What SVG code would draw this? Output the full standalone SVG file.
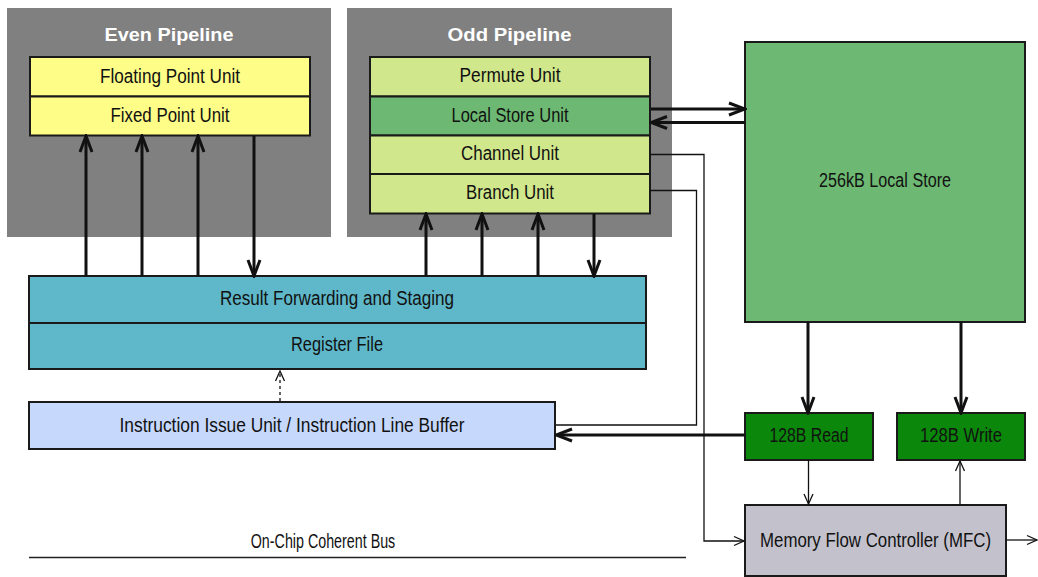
<svg xmlns="http://www.w3.org/2000/svg" width="1038" height="577" viewBox="0 0 1038 577">
<defs>
<style>
.t{font-family:"Liberation Sans",Arial,sans-serif;font-size:20px;fill:#111;text-anchor:middle}
.h{font-family:"Liberation Sans",Arial,sans-serif;font-size:19px;font-weight:bold;fill:#fff;text-anchor:middle}
.pipe{fill:#808080}
.box{stroke:#1a1a1a;stroke-width:2}
.yel{fill:#fdfd88}
.lg{fill:#d1e78b}
.mg{fill:#6db872}
.teal{fill:#5fb8c9}
.blue{fill:#c6d8fb}
.dg{fill:#0b880b}
.grey{fill:#c3c2cc}
.thick{stroke:#111;stroke-width:3;fill:none}
.thin{stroke:#111;stroke-width:1.3;fill:none}
</style>
<marker id="ah" viewBox="-2 -2 20 16" markerWidth="20" markerHeight="16" refX="15" refY="6" orient="auto" markerUnits="userSpaceOnUse">
<path d="M0,0 L16,6 L0,12" fill="none" stroke="#111" stroke-width="3"/>
</marker>
<marker id="at" viewBox="-2 -2 14 12" markerWidth="14" markerHeight="12" refX="10" refY="4.5" orient="auto" markerUnits="userSpaceOnUse">
<path d="M0,0 L10,4.5 L0,9" fill="none" stroke="#111" stroke-width="1.3"/>
</marker>
</defs>
<rect width="1038" height="577" fill="#fff"/>

<g id="even-pipeline">
<rect class="pipe" x="7" y="8" width="324" height="229"/>
<text class="h" x="169" y="41" textLength="129" lengthAdjust="spacingAndGlyphs">Even Pipeline</text>
</g>
<g id="floating-point-unit">
<rect class="box yel" x="30" y="57" width="280" height="39.5"/>
<text class="t" x="170" y="82.5" textLength="140" lengthAdjust="spacingAndGlyphs">Floating Point Unit</text>
</g>
<g id="fixed-point-unit">
<rect class="box yel" x="30" y="96.5" width="280" height="39"/>
<text class="t" x="170" y="121.5" textLength="119" lengthAdjust="spacingAndGlyphs">Fixed Point Unit</text>
</g>

<g id="odd-pipeline">
<rect class="pipe" x="347" y="8" width="325" height="229"/>
<text class="h" x="509.5" y="41" textLength="124" lengthAdjust="spacingAndGlyphs">Odd Pipeline</text>
</g>
<g id="permute-unit">
<rect class="box lg" x="370" y="57" width="280" height="39.5"/>
<text class="t" x="510" y="82.3" textLength="101" lengthAdjust="spacingAndGlyphs">Permute Unit</text>
</g>
<g id="local-store-unit">
<rect class="box mg" x="370" y="96.5" width="280" height="39"/>
<text class="t" x="510" y="121.7" textLength="117" lengthAdjust="spacingAndGlyphs">Local Store Unit</text>
</g>
<g id="channel-unit">
<rect class="box lg" x="370" y="135.5" width="280" height="38.5"/>
<text class="t" x="510" y="160" textLength="98" lengthAdjust="spacingAndGlyphs">Channel Unit</text>
</g>
<g id="branch-unit">
<rect class="box lg" x="370" y="174" width="280" height="39.5"/>
<text class="t" x="510" y="199" textLength="88" lengthAdjust="spacingAndGlyphs">Branch Unit</text>
</g>

<g id="local-store">
<rect class="box mg" x="745" y="42" width="280" height="280"/>
<text class="t" x="885" y="187" textLength="132" lengthAdjust="spacingAndGlyphs">256kB Local Store</text>
</g>

<g id="result-forwarding">
<rect class="box teal" x="29" y="276" width="617" height="47"/>
<text class="t" x="337" y="305" textLength="234" lengthAdjust="spacingAndGlyphs">Result Forwarding and Staging</text>
</g>
<g id="register-file">
<rect class="box teal" x="29" y="323" width="617" height="46"/>
<text class="t" x="337" y="351" textLength="92" lengthAdjust="spacingAndGlyphs">Register File</text>
</g>
<g id="instruction-issue">
<rect class="box blue" x="29" y="402" width="526" height="47"/>
<text class="t" x="292" y="432" textLength="345" lengthAdjust="spacingAndGlyphs">Instruction Issue Unit / Instruction Line Buffer</text>
</g>
<g id="read-128b">
<rect class="box dg" x="745" y="413" width="128" height="47"/>
<text class="t" x="809" y="442" textLength="79" lengthAdjust="spacingAndGlyphs">128B Read</text>
</g>
<g id="write-128b">
<rect class="box dg" x="897" y="413" width="128" height="47"/>
<text class="t" x="961" y="442" textLength="82" lengthAdjust="spacingAndGlyphs">128B Write</text>
</g>
<g id="mfc">
<rect class="box grey" x="745" y="505" width="261" height="71"/>
<text class="t" x="875.5" y="547" textLength="231" lengthAdjust="spacingAndGlyphs">Memory Flow Controller (MFC)</text>
</g>
<g id="bus">
<line x1="29" y1="557.5" x2="686" y2="557.5" stroke="#222" stroke-width="1.5"/>
<text class="t" x="323" y="548" textLength="144.5" lengthAdjust="spacingAndGlyphs">On-Chip Coherent Bus</text>
</g>

<g id="connectors">
<path class="thick" d="M86,276 V137" marker-end="url(#ah)"/>
<path class="thick" d="M142,276 V137" marker-end="url(#ah)"/>
<path class="thick" d="M198,276 V137" marker-end="url(#ah)"/>
<path class="thick" d="M254,136 V275" marker-end="url(#ah)"/>
<path class="thick" d="M426,276 V215" marker-end="url(#ah)"/>
<path class="thick" d="M482,276 V215" marker-end="url(#ah)"/>
<path class="thick" d="M538,276 V215" marker-end="url(#ah)"/>
<path class="thick" d="M594,214 V275" marker-end="url(#ah)"/>
<path class="thick" d="M651,109 H744" marker-end="url(#ah)"/>
<path class="thick" d="M745,122.5 H652" marker-end="url(#ah)"/>
<path class="thin" d="M650,154.5 H704 V541 H744" marker-end="url(#at)"/>
<path class="thin" d="M650,190.5 H696.5 V425 H556"/>
<path class="thick" d="M808,322 V412" marker-end="url(#ah)"/>
<path class="thick" d="M961,322 V412" marker-end="url(#ah)"/>
<path class="thick" d="M745,435 H557" marker-end="url(#ah)"/>
<path class="thin" d="M808.5,460 V504" marker-end="url(#at)"/>
<path class="thin" d="M960,505 V461" marker-end="url(#at)"/>
<path class="thin" d="M1006,540 H1037" marker-end="url(#at)"/>
<path class="thin" d="M280,401 V371" stroke-dasharray="3,3" marker-end="url(#at)"/>
</g>
</svg>
